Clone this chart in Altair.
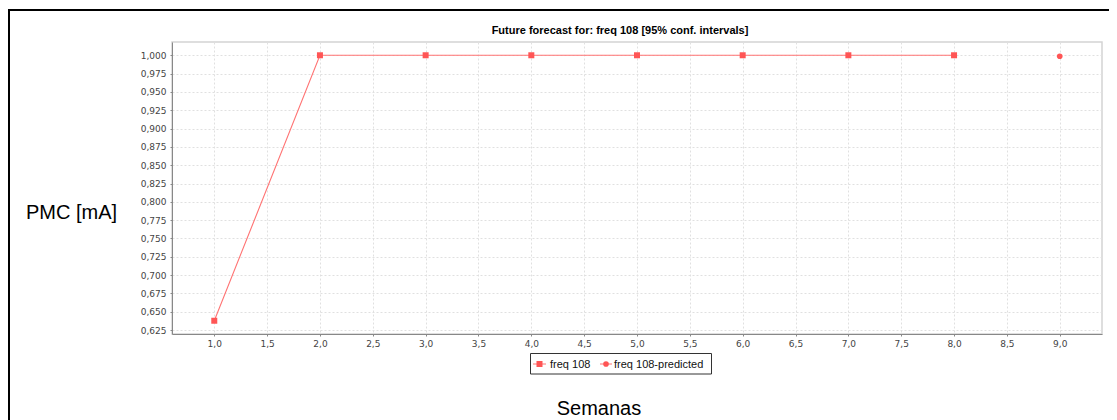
import altair as alt
import pandas as pd

# ---- data ----
semanas = [1, 2, 3, 4, 5, 6, 7, 8]
pmc = [0.6378, 1.0, 1.0, 1.0, 1.0, 1.0, 1.0, 1.0]
pred_semanas = [9]
pred_pmc = [0.9986]

x_ticks = [1.0, 1.5, 2.0, 2.5, 3.0, 3.5, 4.0, 4.5, 5.0, 5.5, 6.0, 6.5, 7.0, 7.5, 8.0, 8.5, 9.0]
y_ticks = [0.625, 0.65, 0.675, 0.7, 0.725, 0.75, 0.775, 0.8, 0.825, 0.85, 0.875,
           0.9, 0.925, 0.95, 0.975, 1.0]
x_domain = [0.6, 9.4]
y_domain = [0.6197, 1.0181]

title_text = "Future forecast for: freq 108 [95% conf. intervals]"
y_title = "PMC [mA]"
x_title = "Semanas"
series_names = ["freq 108", "freq 108-predicted"]

RED = "#ff5555"
LINE_RED = "#ff7373"

df = pd.DataFrame({"semana": semanas, "pmc": pmc})
dfp = pd.DataFrame({"semana": pred_semanas, "pmc": pred_pmc})
one = pd.DataFrame({"k": [0]})

x_enc = alt.X(
    "semana:Q",
    scale=alt.Scale(domain=x_domain, nice=False, zero=False),
    axis=alt.Axis(
        values=x_ticks,
        labelExpr="replace(format(datum.value, '.1f'), '.', ',')",
        title=None,
    ),
)
y_enc = alt.Y(
    "pmc:Q",
    scale=alt.Scale(domain=y_domain, nice=False, zero=False),
    axis=alt.Axis(
        values=y_ticks,
        labelExpr="replace(format(datum.value, '.3f'), '.', ',')",
        title=None,
    ),
)

line = alt.Chart(df).mark_line(color=LINE_RED, strokeWidth=1.1).encode(x=x_enc, y=y_enc)
squares = alt.Chart(df).mark_point(
    shape="square", filled=True, size=36, color=RED, opacity=1
).encode(x=x_enc, y=y_enc)
circles = alt.Chart(dfp).mark_point(
    shape="circle", filled=True, size=32, color=RED, opacity=1
).encode(x=x_enc, y=y_enc)

# ---- decorations (frame, titles, legend) ----
deco = alt.Chart(one)
frame_left = deco.mark_rule(color="black", strokeWidth=2).encode(
    x=alt.value(-163), y=alt.value(-33), y2=alt.value(390)
)
frame_top = deco.mark_rule(color="black", strokeWidth=2).encode(
    x=alt.value(-164), x2=alt.value(945), y=alt.value(-32)
)
title = deco.mark_text(
    font="Liberation Sans", fontSize=11, fontWeight="bold", align="center",
    baseline="alphabetic", color="black"
).encode(x=alt.value(448), y=alt.value(-8), text=alt.value(title_text))
ytitle = deco.mark_text(
    font="Liberation Sans", fontSize=20, align="center", baseline="alphabetic", color="black"
).encode(x=alt.value(-100.5), y=alt.value(177), text=alt.value(y_title))
xtitle = deco.mark_text(
    font="Liberation Sans", fontSize=20, align="center", baseline="alphabetic", color="black"
).encode(x=alt.value(427), y=alt.value(373), text=alt.value(x_title))

leg_box = deco.mark_rect(fill="white", stroke="#333333", strokeWidth=1).encode(
    x=alt.value(358.5), x2=alt.value(539.5), y=alt.value(311.5), y2=alt.value(332)
)
leg_l1 = deco.mark_rule(color=LINE_RED, strokeWidth=1).encode(
    x=alt.value(361), x2=alt.value(374), y=alt.value(322)
)
leg_l2 = deco.mark_rule(color=LINE_RED, strokeWidth=1).encode(
    x=alt.value(428), x2=alt.value(440), y=alt.value(322)
)
leg_s1 = deco.mark_point(shape="square", filled=True, size=36, color=RED, opacity=1).encode(
    x=alt.value(367.5), y=alt.value(322)
)
leg_s2 = deco.mark_point(shape="circle", filled=True, size=32, color=RED, opacity=1).encode(
    x=alt.value(434), y=alt.value(322)
)
leg_t1 = deco.mark_text(
    font="Liberation Sans", fontSize=11, align="left", baseline="middle", color="#111111"
).encode(x=alt.value(378), y=alt.value(322.5), text=alt.value(series_names[0]))
leg_t2 = deco.mark_text(
    font="Liberation Sans", fontSize=11, align="left", baseline="middle", color="#111111"
).encode(x=alt.value(442), y=alt.value(322.5), text=alt.value(series_names[1]))

chart = alt.layer(
    line, squares, circles,
    frame_left, frame_top, title, ytitle, xtitle,
    leg_box, leg_l1, leg_l2, leg_s1, leg_s2, leg_t1, leg_t2,
).properties(
    width=930,
    height=292,
    autosize=alt.AutoSizeParams(type="none"),
    padding={"left": 164, "top": 34, "right": 7, "bottom": 86},
    background="white",
).configure_view(
    stroke="#d4d4d4", strokeWidth=1.5
).configure_axis(
    grid=True,
    gridColor="#e0e0e0",
    gridDash=[2, 2],
    gridWidth=1,
    domainColor="#888888",
    domainWidth=1,
    tickColor="#888888",
    tickSize=2,
    labelFont="DejaVu Sans",
    labelFontSize=9,
    labelColor="#444444",
).configure_axisY(
    labelPadding=4,
).configure_axisX(
    labelPadding=3,
)

chart.save("out.html", embed_options={"renderer": "svg", "actions": False})
